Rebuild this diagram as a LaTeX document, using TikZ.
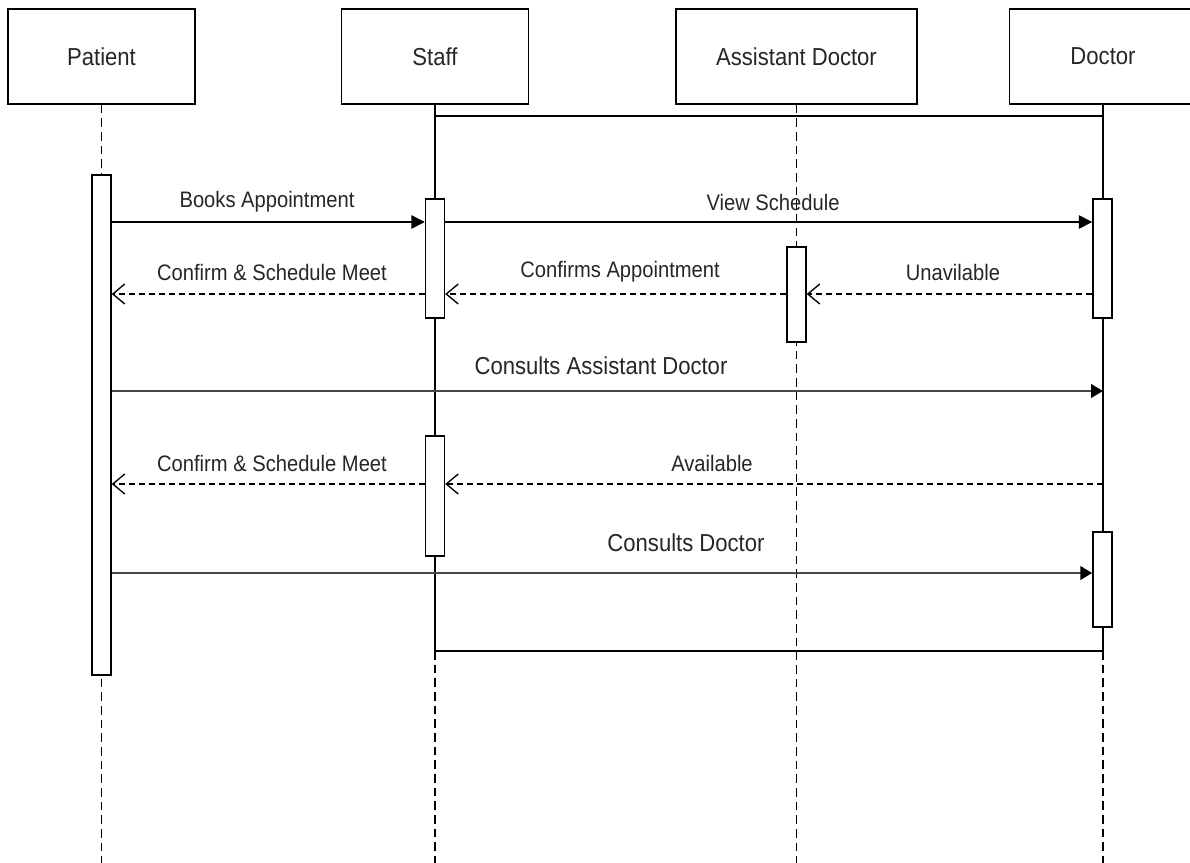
\documentclass[tikz,border=0pt]{standalone}
\usepackage{fontspec}
\setmainfont{Liberation Sans}[FakeStretch=0.9]
\usetikzlibrary{arrows.meta}
\begin{document}
\begin{tikzpicture}[x=0.75pt,y=-0.75pt,
  actor/.style={draw,line width=1.2pt,minimum width=140.25pt,minimum height=71.25pt,inner sep=0pt,
    text=black!85,font=\fontsize{18.4}{22}\selectfont},
  actbar/.style={draw,fill=white,line width=1.1pt,minimum width=14.25pt,inner sep=0pt},
  life/.style={line width=1.1pt,dash pattern=on 6.5pt off 3.75pt},
  solidlife/.style={line width=1.2pt},
  call/.style={line width=1.2pt,-{Triangle[length=10pt,width=10pt]}},
  bigcall/.style={line width=2.2pt,black!72,-{Triangle[length=9pt,width=10pt,color=black]}},
  reply/.style={line width=1.1pt,dash pattern=on 4.5pt off 3pt,-{Straight Barb[length=9pt,width=15pt,line width=1pt]}},
  msg/.style={text=black!85,inner sep=0pt,font=\fontsize{16.8}{20}\selectfont},
  bigmsg/.style={text=black!85,inner sep=0pt,font=\fontsize{18.4}{22}\selectfont}]
\useasboundingbox (0,0) rectangle (1190,863);
\clip (0,0) rectangle (1190,863);

% participants
\node[actor] (p) at (101.5,56.5) {Patient};
\node[actor] (s) at (435,56.5) {Staff};
\node[actor,minimum width=180.75pt] (a) at (796.5,56.5) {Assistant Doctor};
\node[actor] (d) at (1103,56.5) {Doctor};

% lifeline end points
\coordinate (pe) at (101.5,863);
\coordinate (se) at (435,863);
\coordinate (ae) at (796.5,863);
\coordinate (de) at (1103,863);
\coordinate (fb) at (0,651);
\coordinate (ft) at (0,116);

% lifelines
\draw[life] (p.south) -- (pe);
\draw[life] (a.south) -- (ae);
\draw[solidlife] (s.south) -- (s.south |- fb);
\draw[solidlife] (d.south) -- (d.south |- fb);
\draw[life] (s.south |- fb) -- (se);
\draw[life] (d.south |- fb) -- (de);

% frame
\draw[solidlife] (s.south |- ft) -- (d.south |- ft);
\draw[solidlife] (s.south |- fb) -- (d.south |- fb);

% activation bars
\node[actbar,minimum height=375pt] (pa) at (101.5,425) {};
\node[actbar,minimum height=89.25pt] (sa1) at (435,258.5) {};
\node[actbar,minimum height=71.25pt] (aa) at (796.5,294.5) {};
\node[actbar,minimum height=89.25pt] (da1) at (1102.5,258.5) {};
\node[actbar,minimum height=90pt] (sa2) at (435,496) {};
\node[actbar,minimum height=71.25pt] (da2) at (1102.5,579.5) {};

% message levels
\coordinate (m1) at (0,222);
\coordinate (m2) at (0,294);
\coordinate (m3) at (0,391);
\coordinate (m4) at (0,484);
\coordinate (m5) at (0,573);

% messages
\draw[call] (pa.east |- m1) -- (sa1.west |- m1);
\draw[call] (sa1.east |- m1) -- (da1.west |- m1);
\draw[reply] (sa1.west |- m2) -- (pa.east |- m2);
\draw[reply] (aa.west |- m2) -- (sa1.east |- m2);
\draw[reply] (da1.west |- m2) -- (aa.east |- m2);
\draw[bigcall] (pa.east |- m3) -- (d.south |- m3);
\draw[reply] (sa2.west |- m4) -- (pa.east |- m4);
\draw[reply] (d.south |- m4) -- (sa2.east |- m4);
\draw[bigcall] (pa.east |- m5) -- (da2.west |- m5);

% message labels
\node[msg] (l1) at (267,202) {Books Appointment};
\node[msg] (l2) at (773,202) {View Schedule};
\node[msg] (l3) at (272,272) {Confirm \& Schedule Meet};
\node[msg] (l4) at (620,272) {Confirms Appointment};
\node[msg] (l5) at (953,272) {Unavilable};
\node[bigmsg] (l6) at (601,366) {Consults Assistant Doctor};
\node[msg] (l7) at (272,463) {Confirm \& Schedule Meet};
\node[msg] (l8) at (712,463) {Available};
\node[bigmsg] (l9) at (686,543) {Consults Doctor};
\end{tikzpicture}
\end{document}
